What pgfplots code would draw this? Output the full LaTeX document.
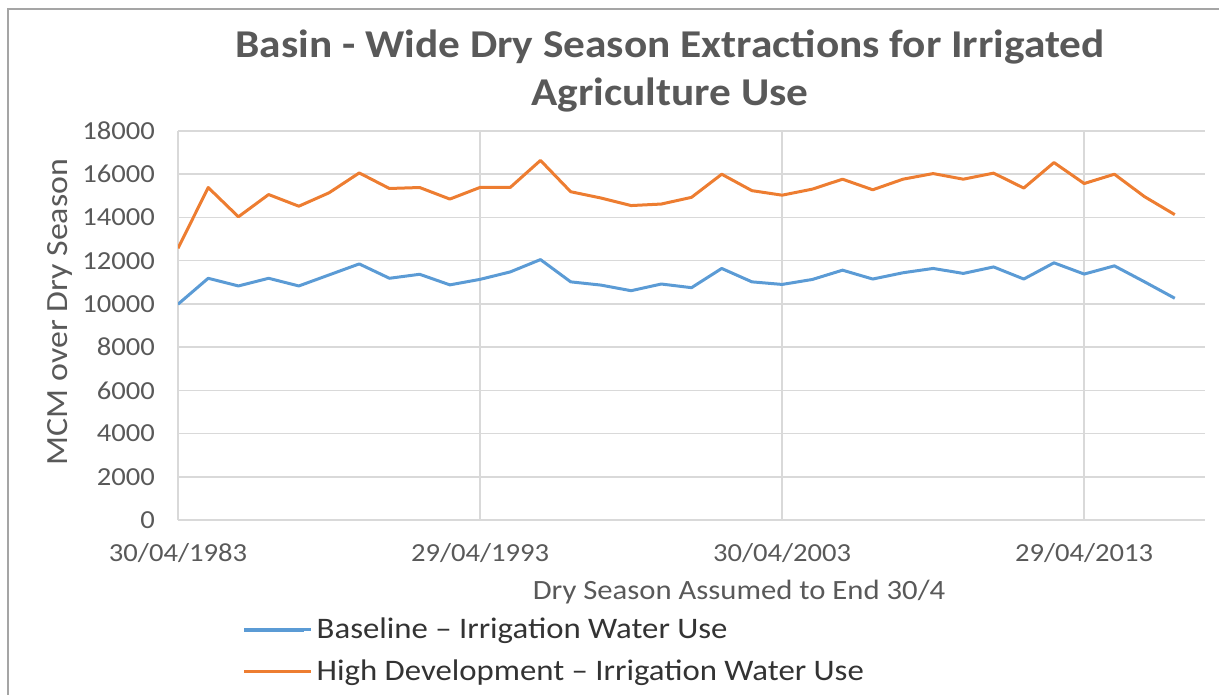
\documentclass[border=0pt]{standalone}
\usepackage{pgfplots}
\pgfplotsset{compat=1.18}
\usepackage{fontspec}
\setmainfont{Carlito}[FakeStretch=1.1]
\definecolor{txt}{RGB}{89,89,89}
\definecolor{lgt}{RGB}{51,51,51}
\definecolor{grd}{RGB}{217,217,217}
\definecolor{blu}{RGB}{91,155,213}
\definecolor{org}{RGB}{237,125,49}
\begin{document}
\begin{tikzpicture}
\path[use as bounding box] (0,0) rectangle (609.5pt,-347.5pt);
\draw[color={rgb,255:red,165;green,165;blue,165}, line width=1pt] (4pt,-360pt) -- (4pt,-4.5pt) -- (620pt,-4.5pt);
\node[font=\fontsize{19.7}{24}\selectfont\bfseries, text=txt, align=center] at (335pt,-35.25pt)
  {Basin - Wide Dry Season Extractions for Irrigated\\Agriculture Use};
\node[font=\fontsize{15.4}{17}\selectfont, text=txt, rotate=90] at (30pt,-156pt) {MCM over Dry Season};
\node[font=\fontsize{13.95}{16}\selectfont, text=txt] at (369.5pt,-296pt) {Dry Season Assumed to End 30/4};
\begin{axis}[
  at={(89pt,-260pt)}, anchor=south west,
  scale only axis, width=513.5pt, height=194.5pt,
  xmin=1983, xmax=2017, ymin=0, ymax=18000,
  axis x line=bottom, axis y line=left,
  axis line style={-, color=grd, line width=0.8pt},
  xtick={1983,1993,2003,2013},
  xticklabels={30/04/1983,29/04/1993,30/04/2003,29/04/2013},
  ytick={0,2000,...,18000},
  scaled y ticks=false,
  major tick length=0pt,
  xmajorgrids, ymajorgrids,
  grid style={color=grd, line width=0.8pt},
  /pgf/number format/assume math mode=true,
  /pgf/number format/1000 sep={},
  ticklabel style={font=\fontsize{13}{15}\selectfont, text=txt},
  xticklabel style={yshift=-8pt},
  yticklabel style={xshift=-8pt},
  legend style={at={(0.0565,-0.23)}, anchor=north west, draw=none, fill=none,
    font=\fontsize{14.9}{17}\selectfont, text=lgt, row sep=5pt},
  legend cell align=left,
  legend image code/.code={\draw[#1, line width=1.8pt] (0pt,0pt) -- (30pt,0pt); \path (0pt,0pt) -- (33.5pt,0pt);},
]
\addplot[blu, line width=1.5pt, line join=round] coordinates {
(1983,9985) (1984,11185) (1985,10830) (1986,11185) (1987,10830) (1988,11340)
(1989,11850) (1990,11185) (1991,11370) (1992,10880) (1993,11135) (1994,11480)
(1995,12050) (1996,11020) (1997,10870) (1998,10610) (1999,10920) (2000,10750)
(2001,11640) (2002,11020) (2003,10900) (2004,11130) (2005,11560) (2006,11150)
(2007,11440) (2008,11640) (2009,11410) (2010,11710) (2011,11150) (2012,11900)
(2013,11380) (2014,11760) (2015,11020) (2016,10260)};
\addlegendentry{Baseline – Irrigation Water Use}
\addplot[org, line width=1.5pt, line join=round] coordinates {
(1983,12570) (1984,15385) (1985,14030) (1986,15060) (1987,14520) (1988,15140)
(1989,16060) (1990,15340) (1991,15385) (1992,14850) (1993,15390) (1994,15390)
(1995,16640) (1996,15190) (1997,14900) (1998,14550) (1999,14620) (2000,14930)
(2001,16000) (2002,15240) (2003,15030) (2004,15310) (2005,15770) (2006,15280)
(2007,15770) (2008,16030) (2009,15770) (2010,16050) (2011,15360) (2012,16540)
(2013,15570) (2014,16000) (2015,14960) (2016,14130)};
\addlegendentry{High Development – Irrigation Water Use}
\end{axis}
\end{tikzpicture}
\end{document}
